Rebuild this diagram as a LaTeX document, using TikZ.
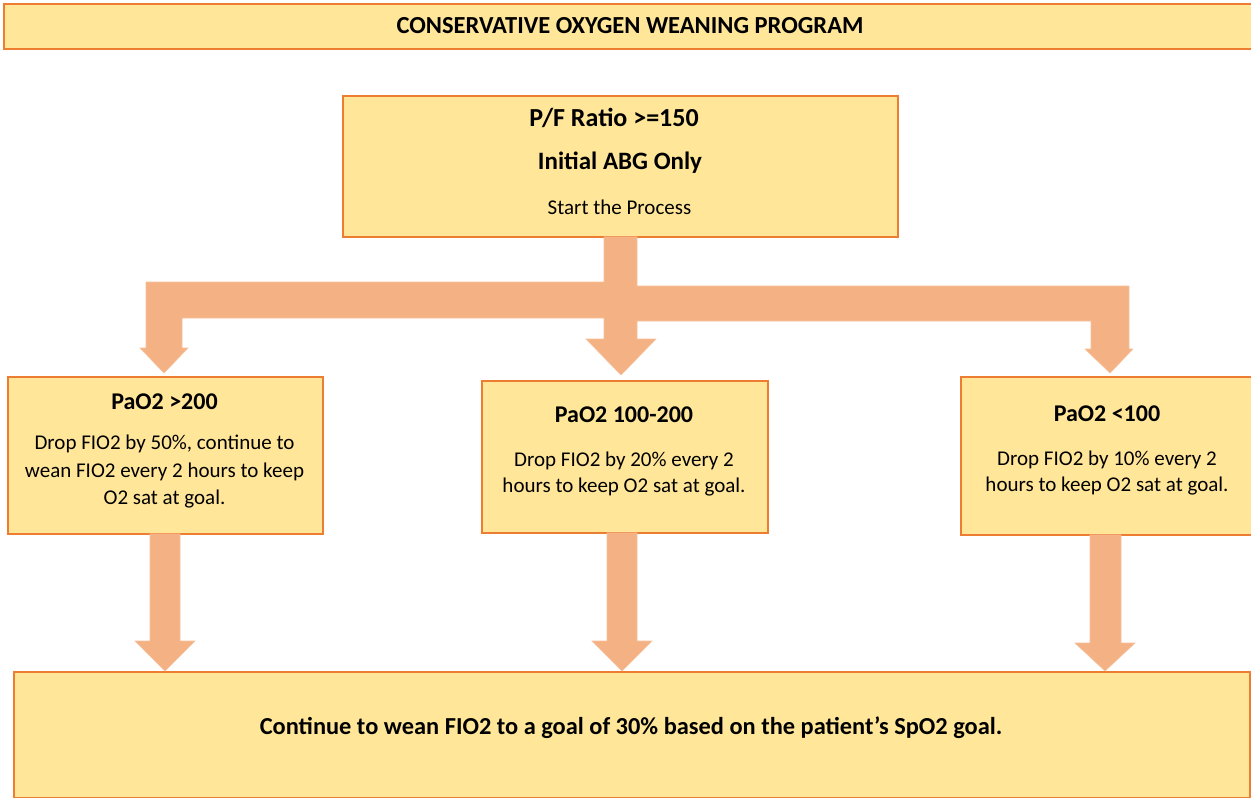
\documentclass[tikz,border=0pt]{standalone}
\usepackage{fontspec}
\setmainfont{Carlito}
\definecolor{boxfill}{HTML}{FFE699}
\definecolor{boxline}{HTML}{ED7D31}
\definecolor{arrowfill}{HTML}{F4B183}
\begin{document}
\begin{tikzpicture}[x=1pt,y=-1pt,
  box/.style={draw=boxline,fill=boxfill,line width=1.5pt,inner sep=0pt,anchor=north west},
  blockarrow/.style={fill=arrowfill,draw=arrowfill!80!white,line width=0.6pt},
  ttl/.style={font=\bfseries\fontsize{24.5}{28}\selectfont},
  hd/.style={font=\bfseries\fontsize{25}{29}\selectfont},
  sub/.style={font=\bfseries\fontsize{24}{28}\selectfont},
  bd/.style={font=\fontsize{21}{27.5}\selectfont,align=center}]
\useasboundingbox (0,0) rectangle (1251,798);
\clip (0,0) rectangle (1251,798);
% title
\node[box,line width=2.2pt,minimum width=1260pt,minimum height=45pt] (title) at (3,3) {};
\node[ttl] (titletext) at (630,26) {CONSERVATIVE OXYGEN WEANING PROGRAM};
% top box
\node[box,minimum width=555pt,minimum height=141pt] (top) at (342,95) {};
\node[hd,font=\bfseries\fontsize{26}{30}\selectfont] (t1) at (614,118) {P/F Ratio >=150};
\node[hd] (t2) at (620,163) {Initial ABG Only};
\node[bd] (t3) at (619.5,207) {Start the Process};
% middle boxes
\node[box,minimum width=315pt,minimum height=157pt] (left) at (7,376) {};
\node[sub] (l1) at (164.5,402) {PaO2 >200};
\node[bd] (l2) at (164.5,472) {Drop FIO2 by 50\%, continue to\\wean FIO2 every 2 hours to keep\\O2 sat at goal.};
\node[box,minimum width=286pt,minimum height=152pt] (mid) at (481,380) {};
\node[sub] (m1) at (624,415) {PaO2 100-200};
\node[bd,font=\fontsize{21}{26}\selectfont] (m2) at (624,474) {Drop FIO2 by 20\% every 2\\hours to keep O2 sat at goal.};
\node[box,minimum width=292pt,minimum height=158pt] (right) at (960,376) {};
\node[sub] (r1) at (1107,414) {PaO2 <100};
\node[bd,font=\fontsize{21}{26}\selectfont] (r2) at (1107,473.5) {Drop FIO2 by 10\% every 2\\hours to keep O2 sat at goal.};
% bottom box
\node[box,minimum width=1236pt,minimum height=126pt] (bottom) at (13,671) {};
\node[sub,font=\bfseries\fontsize{24.4}{28}\selectfont] (b1) at (631,728) {Continue to wean FIO2 to a goal of 30\% based on the patient’s SpO2 goal.};
% branching arrow
\draw[blockarrow] (604,236.8) -- (637,236.8) -- (637,286) -- (1129,286) -- (1129,349) -- (1133,349) -- (1110,373)
  -- (1085,349) -- (1091,349) -- (1091,321) -- (637,321) -- (637,339) -- (656,339) -- (621,375)
  -- (586,339) -- (604,339) -- (604,318) -- (182,318) -- (182,348) -- (188,348) -- (164,373)
  -- (140,348) -- (146,348) -- (146,282) -- (604,282) -- cycle;
% lower arrows
\draw[blockarrow] (150,533.8) -- (180,533.8) -- (180,641) -- (195,641) -- (165,671) -- (135,641) -- (150,641) -- cycle;
\draw[blockarrow] (607,532.8) -- (637,532.8) -- (637,641) -- (652,641) -- (622,671) -- (592,641) -- (607,641) -- cycle;
\draw[blockarrow] (1090,534.8) -- (1121,534.8) -- (1121,643) -- (1135,643) -- (1105,671) -- (1075,643) -- (1090,643) -- cycle;
\end{tikzpicture}
\end{document}
